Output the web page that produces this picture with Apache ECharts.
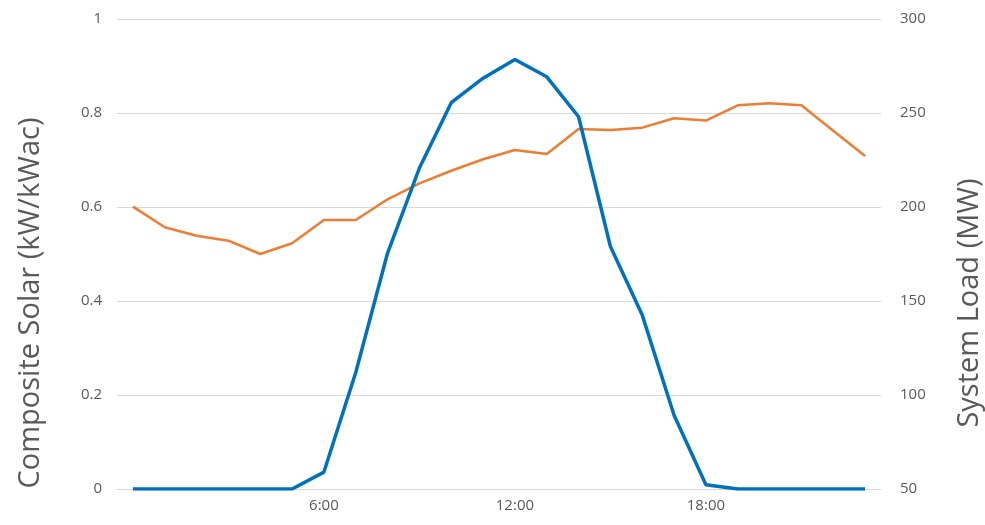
<!DOCTYPE html>
<html>
<head>
<meta charset="utf-8">
<script src="https://cdn.jsdelivr.net/npm/echarts@6/dist/echarts.min.js"></script>
<style>
  html, body { margin: 0; padding: 0; background: #fff; }
  #chart { width: 985px; height: 525px; }
</style>
</head>
<body>
<div id="chart"></div>
<script>
  // hours of the day
  const hours = []
  for (let h = 0; h < 24; h++) hours.push(h + ':00')
  const shownHours = ['6:00', '12:00', '18:00']

  // composite solar output, kW/kWac (left axis)
  const solar = [0, 0, 0, 0, 0, 0, 0.036, 0.248, 0.502, 0.683, 0.822, 0.874,
    0.914, 0.877, 0.792, 0.516, 0.370, 0.157, 0.009, 0, 0, 0, 0, 0]

  // system load, MW (right axis)
  const load = [200.2, 189.2, 184.7, 182.1, 175.0, 180.7, 193.1, 193.1, 204.1, 212.6,
    219.3, 225.4, 230.3, 228.2, 241.5, 240.9, 242.2, 247.2, 246.0, 254.1,
    255.2, 254.1, 240.6, 227.1]

  const textColor = '#595959'
  const gridColor = '#d9d9d9'
  const font = '"Open Sans", "Liberation Sans", sans-serif'

  const chart = echarts.init(document.getElementById('chart'))
  chart.setOption({
    animation: false,
    grid: { left: 117, right: 104, top: 19, bottom: 36, outerBoundsMode: 'none', containLabel: false },
    xAxis: {
      type: 'category',
      data: hours,
      boundaryGap: true,
      axisLine: { show: true, lineStyle: { color: gridColor, width: 1 } },
      axisTick: { show: false },
      axisLabel: {
        interval: 0,
        formatter: (v) => (shownHours.includes(v) ? v : ''),
        color: textColor,
        fontSize: 15,
        fontFamily: font,
        margin: 9,
      },
    },
    yAxis: [
      {
        type: 'value',
        min: 0,
        max: 1,
        interval: 0.2,
        name: 'Composite Solar (kW/kWac)',
        nameLocation: 'middle',
        nameGap: 72,
        // titles sit a bit below the plot's middle, as in the original
        nameTextStyle: { color: textColor, fontSize: 29, fontFamily: font, padding: [0, 98, 0, 0] },
        axisLine: { show: false },
        axisTick: { show: false },
        axisLabel: { color: textColor, fontSize: 15, fontFamily: font, margin: 15 },
        splitLine: { lineStyle: { color: gridColor, width: 1 } },
      },
      {
        type: 'value',
        min: 50,
        max: 300,
        interval: 50,
        name: 'System Load (MW)',
        nameLocation: 'middle',
        nameGap: 74,
        nameTextStyle: { color: textColor, fontSize: 29, fontFamily: font, padding: [0, 98, 0, 0] },
        axisLine: { show: false },
        axisTick: { show: false },
        axisLabel: { color: textColor, fontSize: 15, fontFamily: font, margin: 19 },
        splitLine: { show: false },
      },
    ],
    series: [
      {
        name: 'Composite Solar',
        type: 'line',
        yAxisIndex: 0,
        data: solar,
        symbol: 'none',
        lineStyle: { color: '#0070C0', width: 3.5 },
        itemStyle: { color: '#0070C0' },
        z: 3,
      },
      {
        name: 'System Load',
        type: 'line',
        yAxisIndex: 1,
        data: load,
        symbol: 'none',
        lineStyle: { color: '#ED7D31', width: 2.5 },
        itemStyle: { color: '#ED7D31' },
        z: 2,
      },
    ],
  })
</script>
</body>
</html>
